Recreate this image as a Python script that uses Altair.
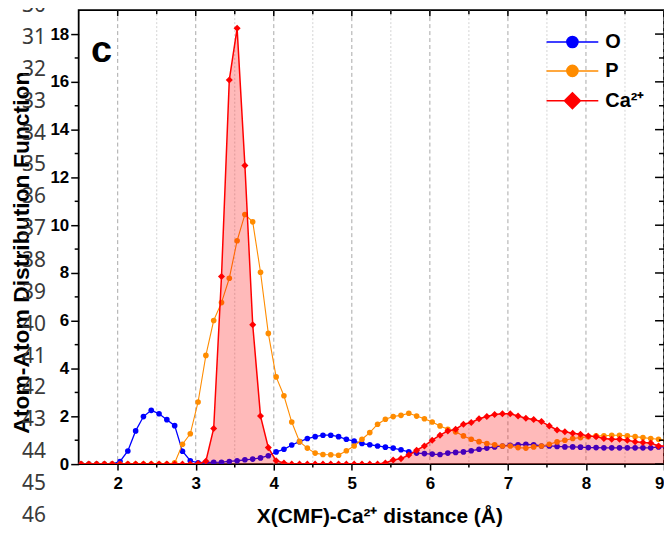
import altair as alt
import pandas as pd

# ---------------- data ----------------
X = [1.53, 1.63, 1.73, 1.83, 1.93, 2.03, 2.13, 2.23, 2.33, 2.43,
     2.53, 2.63, 2.73, 2.83, 2.93, 3.03, 3.13, 3.23, 3.33, 3.43,
     3.53, 3.63, 3.73, 3.83, 3.93, 4.03, 4.13, 4.23, 4.33, 4.43,
     4.53, 4.63, 4.73, 4.83, 4.93, 5.03, 5.13, 5.23, 5.33, 5.43,
     5.53, 5.63, 5.73, 5.83, 5.93, 6.03, 6.13, 6.23, 6.33, 6.43,
     6.53, 6.63, 6.73, 6.83, 6.93, 7.03, 7.13, 7.23, 7.33, 7.43,
     7.53, 7.63, 7.73, 7.83, 7.93, 8.03, 8.13, 8.23, 8.33, 8.43,
     8.53, 8.63, 8.73, 8.83, 8.93, 9.03]

O_VALUES = [0, 0, 0, 0, 0, 0.11, 0.55, 1.39, 1.99, 2.25,
            2.11, 1.86, 1.61, 0.54, 0.14, 0.05, 0.07, 0.07, 0.08, 0.11,
            0.14, 0.18, 0.21, 0.26, 0.35, 0.51, 0.62, 0.80, 0.94, 1.07,
            1.15, 1.21, 1.21, 1.15, 1.04, 0.96, 0.86, 0.81, 0.76, 0.71,
            0.67, 0.60, 0.51, 0.46, 0.44, 0.42, 0.40, 0.46, 0.49, 0.51,
            0.56, 0.62, 0.67, 0.72, 0.76, 0.79, 0.81, 0.83, 0.81, 0.76,
            0.76, 0.74, 0.72, 0.72, 0.71, 0.69, 0.69, 0.68, 0.68, 0.68,
            0.68, 0.68, 0.68, 0.68, 0.72, 0.72]

P_VALUES = [0, 0, 0, 0, 0, 0, 0, 0, 0, 0,
            0, 0, 0.05, 0.83, 1.27, 2.60, 4.55, 6.01, 6.76, 7.78,
            9.35, 10.45, 10.14, 8.03, 5.47, 3.65, 2.86, 1.76, 0.94, 0.67,
            0.46, 0.40, 0.39, 0.37, 0.56, 0.76, 1.04, 1.32, 1.67, 1.88,
            1.99, 2.04, 2.13, 2.01, 1.90, 1.76, 1.60, 1.46, 1.35, 1.18,
            1.04, 0.94, 0.86, 0.81, 0.76, 0.76, 0.69, 0.67, 0.72, 0.76,
            0.83, 0.93, 1.00, 1.07, 1.11, 1.15, 1.18, 1.18, 1.21, 1.21,
            1.18, 1.15, 1.11, 1.07, 1.04, 1.00]

CA_VALUES = [0, 0, 0, 0, 0, 0, 0, 0, 0, 0,
             0, 0, 0, 0, 0, 0.02, 0.12, 1.49, 7.85, 16.08,
             18.24, 12.50, 5.83, 2.01, 0.69, 0.14, 0.05, 0, 0, 0,
             0, 0, 0, 0, 0, 0, 0, 0, 0, 0.05,
             0.17, 0.23, 0.38, 0.58, 0.76, 1.00, 1.21, 1.39, 1.46, 1.67,
             1.74, 1.90, 1.99, 2.08, 2.11, 2.11, 2.01, 1.92, 1.87, 1.78,
             1.60, 1.43, 1.35, 1.29, 1.25, 1.18, 1.15, 1.07, 1.04, 1.04,
             1.00, 0.94, 0.90, 0.88, 0.76, 0.75]

SERIES = ["O", "P", "Ca²⁺"]
COLORS = ["#0000ff", "#ff8c00", "#ff0000"]

X_MAJOR = [2, 3, 4, 5, 6, 7, 8, 9]
X_MINOR = [2.5, 3.5, 4.5, 5.5, 6.5, 7.5, 8.5]
Y_MAJOR = [0, 2, 4, 6, 8, 10, 12, 14, 16, 18]
Y_MINOR = [1, 3, 5, 7, 9, 11, 13, 15, 17]
LINE_NUMBERS = list(range(30, 47))
PANEL_LABEL = "c"

# ---------------- geometry helpers ----------------
XMIN, XMAX, YMIN, YMAX = 1.5, 9.0, 0.0, 19.0
W, H = 588, 456
UX = (XMAX - XMIN) / W   # data units per pixel (x)
UY = (YMAX - YMIN) / H   # data units per pixel (y)

FONT = "Liberation Sans"

df = pd.DataFrame({
    "x": X * 3,
    "y": O_VALUES + P_VALUES + CA_VALUES,
    "series": [SERIES[0]] * len(X) + [SERIES[1]] * len(X) + [SERIES[2]] * len(X),
})

xs = alt.Scale(domain=[XMIN, XMAX], nice=False, zero=False)
ys = alt.Scale(domain=[YMIN, YMAX], nice=False, zero=False)

x_axis = alt.Axis(values=X_MAJOR, title="X(CMF)-Ca²⁺ distance (Å)", grid=False, domain=False,
                  tickSize=6, tickWidth=1.5, tickColor="black", labelPadding=6,
                  labelFont=FONT, labelFontSize=17, labelFontWeight="bold", labelColor="black",
                  titleFont=FONT, titleFontSize=21, titleFontWeight="bold", titleColor="black",
                  titlePadding=14, titleX=302, titleAlign="center")
y_axis = alt.Axis(values=Y_MAJOR, title="Atom-Atom Distribution Function", grid=False, domain=False,
                  tickSize=8, tickWidth=1.5, tickColor="black", labelPadding=2,
                  labelFont=FONT, labelFontSize=17, labelFontWeight="bold", labelColor="black",
                  titleFont=FONT, titleFontSize=23, titleFontWeight="bold", titleColor="black",
                  titleX=-57, titleY=243, titleAngle=270, titleAlign="center", titleBaseline="middle")

X_ENC = alt.X("x:Q", scale=xs, axis=x_axis)
Y_ENC = alt.Y("y:Q", scale=ys, axis=y_axis)

# grid lines
grid_major = alt.Chart(pd.DataFrame({"x": X_MAJOR})).mark_rule(
    color="#a8a8a8", strokeDash=[4, 3], strokeWidth=1).encode(x=X_ENC)
grid_minor = alt.Chart(pd.DataFrame({"x": X_MINOR})).mark_rule(
    color="#d4d4d4", strokeDash=[2, 2], strokeWidth=1).encode(x=X_ENC)


def series_df(name):
    return df[df["series"] == name]


o_line = alt.Chart(series_df("O")).mark_line(color=COLORS[0], strokeWidth=1.3, clip=True).encode(x=X_ENC, y=Y_ENC)
o_pts = alt.Chart(series_df("O")).mark_point(color=COLORS[0], filled=True, opacity=1, size=32, shape="circle", clip=True).encode(x=X_ENC, y=Y_ENC)
p_line = alt.Chart(series_df("P")).mark_line(color=COLORS[1], strokeWidth=1.1, clip=True).encode(x=X_ENC, y=Y_ENC)
p_pts = alt.Chart(series_df("P")).mark_point(color=COLORS[1], filled=True, opacity=1, size=32, shape="circle", clip=True).encode(x=X_ENC, y=Y_ENC)
ca_area = alt.Chart(series_df("Ca²⁺")).mark_area(color=COLORS[2], opacity=0.27, clip=True).encode(x=X_ENC, y=Y_ENC)
ca_line = alt.Chart(series_df("Ca²⁺")).mark_line(color=COLORS[2], strokeWidth=1.5, clip=True).encode(x=X_ENC, y=Y_ENC)
ca_pts = alt.Chart(series_df("Ca²⁺")).mark_point(color=COLORS[2], filled=True, opacity=1, size=50, shape="diamond", clip=True).encode(x=X_ENC, y=Y_ENC)

# minor / mirrored ticks (through the scales)
tick_df_left = pd.DataFrame({"y": Y_MINOR, "x": [XMIN] * len(Y_MINOR), "x2": [XMIN - 4 * UX] * len(Y_MINOR)})
left_minor = alt.Chart(tick_df_left).mark_rule(color="black", strokeWidth=1.5).encode(
    x=X_ENC, x2="x2:Q", y=Y_ENC)
tick_df_right = pd.DataFrame({
    "y": Y_MAJOR + Y_MINOR,
    "x": [XMAX] * (len(Y_MAJOR) + len(Y_MINOR)),
    "x2": [XMAX - 9 * UX] * len(Y_MAJOR) + [XMAX - 5 * UX] * len(Y_MINOR)})
right_ticks = alt.Chart(tick_df_right).mark_rule(color="black", strokeWidth=1.5).encode(
    x=X_ENC, x2="x2:Q", y=Y_ENC)
tick_df_top = pd.DataFrame({
    "x": X_MAJOR + X_MINOR,
    "y": [YMAX] * (len(X_MAJOR) + len(X_MINOR)),
    "y2": [YMAX - 6 * UY] * len(X_MAJOR) + [YMAX - 4 * UY] * len(X_MINOR)})
top_ticks = alt.Chart(tick_df_top).mark_rule(color="black", strokeWidth=1.5).encode(
    x=X_ENC, y=Y_ENC, y2="y2:Q")
tick_df_bottom = pd.DataFrame({"x": X_MINOR, "y": [YMIN] * len(X_MINOR), "y2": [YMIN - 3.5 * UY] * len(X_MINOR)})
bottom_minor = alt.Chart(tick_df_bottom).mark_rule(color="black", strokeWidth=1.5).encode(
    x=X_ENC, y=Y_ENC, y2="y2:Q")

# panel label
label_df = pd.DataFrame({"x": [XMIN + 23 * UX], "y": [YMAX - 41 * UY], "t": [PANEL_LABEL]})
panel = alt.Chart(label_df).mark_text(font=FONT, fontSize=38, fontWeight="bold", color="black",
                                      align="center", baseline="middle").encode(x=X_ENC, y=Y_ENC, text="t:N")

# manuscript line numbers
ln_df = pd.DataFrame({
    "n": [str(n) for n in LINE_NUMBERS],
    "x": [XMIN - 57 * UX] * len(LINE_NUMBERS),
    "y": [(465 - (517 - (46 - n) * 32)) * UY for n in LINE_NUMBERS],
})
line_nums = alt.Chart(ln_df).mark_text(font="Noto Sans", fontSize=21, color="#3a3a3a",
                                        align="left", baseline="middle", clip=False).encode(
    x=X_ENC, y=Y_ENC, text="n:N")

# legend (line + marker symbols); paths extend beyond the unit box on purpose
S = 16            # symbol box side in px  -> 8 px per path unit
L = 3.25          # half line length (26 px)
R = 0.7           # circle radius (5.6 px)
D = 1.0           # diamond half size (8 px)
circle_path = f"M-{L},0L{L},0M{R},0A{R},{R},0,1,1,-{R},0A{R},{R},0,1,1,{R},0Z"
diamond_path = f"M-{L},0L{L},0M0,-{D}L{D},0L0,{D}L-{D},0Z"
PATHS = [circle_path, circle_path, diamond_path]

leg = alt.Legend(title=None, orient="none", legendX=486, legendY=22, symbolSize=S * S,
                 symbolStrokeWidth=1.5, symbolOpacity=1, labelFont=FONT, labelFontSize=20,
                 labelFontWeight="bold", labelColor="black", labelOffset=23, rowPadding=9)
legend_layer = alt.Chart(df).transform_filter("false").mark_point(filled=True, size=S * S).encode(
    x=X_ENC, y=Y_ENC,
    fill=alt.Fill("series:N", scale=alt.Scale(domain=SERIES, range=COLORS), legend=leg),
    stroke=alt.Stroke("series:N", scale=alt.Scale(domain=SERIES, range=COLORS), legend=leg),
    shape=alt.Shape("series:N", scale=alt.Scale(domain=SERIES, range=PATHS), legend=leg),
)

chart = alt.layer(
    grid_minor, grid_major,
    o_line, o_pts, p_line, p_pts,
    ca_area, ca_line, ca_pts,
    left_minor, right_ticks, top_ticks, bottom_minor,
    line_nums, panel, legend_layer,
).properties(
    width=W, height=H, autosize=alt.AutoSizeParams(type="none"),
    padding={"left": 71, "top": 1, "right": 0, "bottom": 64},
).configure_view(stroke="black", strokeWidth=1.8)

chart.save("out.html", embed_options={"renderer": "svg", "actions": False})
